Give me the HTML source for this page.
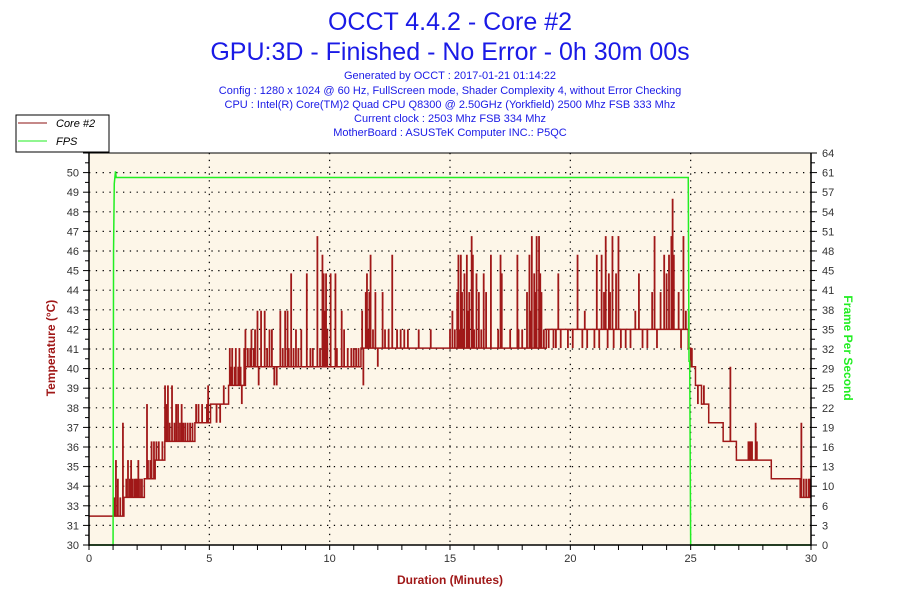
<!DOCTYPE html>
<html><head><meta charset="utf-8"><style>
body{margin:0;background:#fff;width:900px;height:600px;overflow:hidden;font-family:"Liberation Sans",sans-serif}
svg{display:block}
</style></head><body>
<svg id="chart" width="900" height="600" xmlns="http://www.w3.org/2000/svg">
<text x="450" y="30" text-anchor="middle" font-size="25" fill="#1a1ae6">OCCT 4.4.2 - Core #2</text>
<text x="450" y="60" text-anchor="middle" font-size="25" fill="#1a1ae6">GPU:3D - Finished - No Error - 0h 30m 00s</text>
<g font-size="11" fill="#1a1ae6" text-anchor="middle">
<text x="450" y="79">Generated by OCCT : 2017-01-21 01:14:22</text>
<text x="450" y="94">Config : 1280 x 1024 @ 60 Hz, FullScreen mode, Shader Complexity 4, without Error Checking</text>
<text x="450" y="108">CPU : Intel(R) Core(TM)2 Quad CPU Q8300 @ 2.50GHz (Yorkfield) 2500 Mhz FSB 333 Mhz</text>
<text x="450" y="122">Current clock : 2503 Mhz FSB 334 Mhz</text>
<text x="450" y="136">MotherBoard : ASUSTeK Computer INC.: P5QC</text>
</g>
<rect x="89" y="153" width="722" height="392" fill="#fdf6e8"/>
<g id="grid"></g><g id="series"></g><g id="axes"></g>
<g>
<rect x="16" y="115" width="93" height="37" fill="#fff" stroke="#000" stroke-width="1"/>
<line x1="18" y1="123" x2="47" y2="123" stroke="#8b1010"/>
<text x="56" y="127" font-size="11" font-style="italic" fill="#000">Core #2</text>
<line x1="18" y1="141" x2="47" y2="141" stroke="#22ee22"/>
<text x="56" y="145" font-size="11" font-style="italic" fill="#000">FPS</text>
</g>
<text transform="translate(55,348) rotate(-90)" text-anchor="middle" font-size="12" font-weight="bold" fill="#a01818">Temperature (°C)</text>
<text transform="translate(844,348) rotate(90)" text-anchor="middle" font-size="12" font-weight="bold" fill="#22ee22">Frame Per Second</text>
<text x="450" y="584" text-anchor="middle" font-size="12" font-weight="bold" fill="#a01818">Duration (Minutes)</text>
</svg>
<script>
const xTicks=[0,5,10,15,20,25,30];
const leftLabels=["30","31","33","34","35","36","37","38","39","40","41","42","43","44","45","46","47","48","49","50"];
const rightLabels=["0","3","6","10","13","16","19","22","25","29","32","35","38","41","45","48","51","54","57","61","64"];
const baseTimes=[0,1.45,2.3,2.75,3.0,3.15,4.4,5.05,5.8,6.5,11.3,19.0,24.9,25.0,25.2,25.45,25.75,26.35,26.9,28.35,29.55,30];
const baseTemps=[32,33,34,35,35,36,37,38,39,40,41,42,41,40,39,38,37,36,35,34,33,33];
const spikeTimes=[1.05,1.12,1.2,1.3,1.41,1.5,1.55,1.62,1.7,1.75,1.82,1.9,1.95,2.0,2.05,2.12,2.2,2.41,2.45,2.55,2.6,2.7,2.8,2.9,3.05,3.16,3.22,3.28,3.35,3.45,3.55,3.62,3.7,3.78,3.85,3.92,4.0,4.1,4.2,4.3,4.45,4.55,4.7,4.9,4.95,5.3,5.45,5.6,5.85,5.9,5.95,6.05,6.1,6.2,6.25,6.3,6.35,6.45,6.5,6.6,6.7,6.75,6.85,6.9,7.0,7.05,7.15,7.3,7.4,7.5,7.6,7.7,7.8,7.95,8.05,8.15,8.25,8.3,8.4,8.5,8.6,8.7,8.82,9.05,9.2,9.3,9.49,9.6,9.7,9.75,9.8,9.85,9.9,10.04,10.24,10.3,10.5,10.6,10.75,10.9,11.0,11.1,11.2,11.35,11.4,11.5,11.55,11.6,11.65,11.7,11.8,11.9,12.0,12.2,12.3,12.45,12.6,12.8,12.95,13.1,13.25,13.7,14.2,15.0,15.1,15.2,15.3,15.35,15.4,15.45,15.5,15.55,15.6,15.7,15.75,15.8,15.9,15.95,16.0,16.1,16.2,16.3,16.4,16.5,16.7,17.0,17.1,17.15,17.5,17.8,17.85,18.0,18.2,18.3,18.35,18.4,18.5,18.55,18.6,18.7,18.75,18.8,18.9,19.1,19.3,19.4,19.5,19.6,19.9,20.1,20.3,20.5,20.6,20.7,21.0,21.1,21.2,21.3,21.4,21.47,21.55,21.6,21.65,21.75,21.8,21.9,22.0,22.1,22.3,22.5,22.7,22.85,23.0,23.2,23.4,23.5,23.6,23.75,23.9,24.0,24.1,24.2,24.25,24.3,24.5,24.6,24.7,24.8,24.92,25.05,25.3,25.55,25.6,26.1,26.2,26.65,26.7,27.4,27.45,27.5,27.55,27.7,27.75,29.6,29.7,29.8,29.9,29.95];
const spikeTemps=[33,35,34,33,37,33,34,35,34,35,34,34,34,34,35,34,34,38,35,35,36,36,36,36,36,39,38,39,37,39,37,38,38,37,38,37,37,37,37,37,38,38,38,38,39,37,37,39,41,40,41,40,41,40,41,40,38,41,42,41,41,42,41,42,43,39,43,43,41,42,42,39,39,43,41,43,43,41,45,41,42,41,42,45,41,41,47,41,46,45,43,45,42,45,45,41,43,42,41,41,41,41,41,43,39,44,45,42,44,46,42,44,40,44,42,42,46,42,42,42,42,42,42,42,43,42,44,46,42,46,44,42,45,46,43,44,47,46,42,45,44,42,45,44,46,42,46,45,42,46,42,42,44,46,43,47,45,44,47,47,45,44,42,41,41,41,45,41,41,41,46,41,43,41,41,46,41,46,44,47,41,45,44,47,41,45,47,41,41,41,43,45,41,41,44,47,41,44,46,45,46,47,49,46,44,41,47,43,43,41,38,39,38,37,37,40,36,36,36,36,36,37,36,37,34,34,34,34,34];
const fpsTimes=[0,1.0,1.02,1.05,1.1,1.13,24.9,24.93,24.96,25.0,30];
const fpsValues=[0,0,48,59,61,60,60,30,30,0,0];

const X0=89,X1=811,Y0=545,Y1=153,NS="http://www.w3.org/2000/svg";
const xs=t=>X0+(X1-X0)*t/30;
const yT=T=>Y0-((T-0.45)-30)*(Y0-Y1)/21;
const yF=f=>Y0-f*(Y0-Y1)/64;
function mk(tag,attrs,parent){const e=document.createElementNS(NS,tag);for(const k in attrs)e.setAttribute(k,attrs[k]);parent.appendChild(e);return e;}
function baseAt(t){let v=baseTemps[0];for(let i=0;i<baseTimes.length;i++){if(baseTimes[i]<=t)v=baseTemps[i];}return v;}
const grid=document.getElementById('grid'),series=document.getElementById('series'),axes=document.getElementById('axes');
const step=(Y0-Y1)/20;
for(let i=1;i<20;i++){const y=Y0-i*step;const l=mk('line',{x1:X0,x2:X1,y1:y,y2:y,stroke:'#000','stroke-width':1.2,'stroke-dasharray':'1.3 5.5'},grid);

}
xTicks.slice(1,-1).forEach(t=>{const l=mk('line',{x1:xs(t),x2:xs(t),y1:Y1,y2:Y0,stroke:'#000','stroke-width':1.2,'stroke-dasharray':'1.3 5.5'},grid);

});
// temperature base step path
let d='M'+xs(baseTimes[0])+','+yT(baseTemps[0]);
for(let i=1;i<baseTimes.length;i++){d+=' H'+xs(baseTimes[i])+' V'+yT(baseTemps[i]);}
const bp=mk('path',{d:d,fill:'none',stroke:'#a01818','stroke-width':1.5},series);


spikeTimes.forEach((t,i)=>{const x=xs(t);const s=mk('line',{x1:x,x2:x,y1:yT(baseAt(t)),y2:yT(spikeTemps[i]),stroke:'#a01818','stroke-width':1.8},series);

});
const fp=mk('polyline',{points:fpsTimes.map((t,i)=>xs(t)+','+yF(fpsValues[i])).join(' '),fill:'none',stroke:'#22ee22','stroke-width':1.5},series);


// axes
mk('line',{x1:X0,x2:X0,y1:Y1,y2:Y0+1,stroke:'#000','stroke-width':1.5},axes);
mk('line',{x1:X1,x2:X1,y1:Y1,y2:Y0+1,stroke:'#000','stroke-width':1.5},axes);
mk('line',{x1:X0,x2:X1,y1:Y0,y2:Y0,stroke:'#000','stroke-width':1.5},axes);
mk('line',{x1:X0,x2:X1,y1:Y1,y2:Y1,stroke:'#000','stroke-width':1},axes);
for(let i=0;i<=40;i++){const y=Y0-i*step/2;const L=i%2==0?6:4;
mk('line',{x1:X0-L,x2:X0,y1:y,y2:y,stroke:'#000','stroke-width':1},axes);
mk('line',{x1:X1,x2:X1+L,y1:y,y2:y,stroke:'#000','stroke-width':1},axes);}
leftLabels.forEach((s,i)=>{const t=mk('text',{x:X0-10,y:Y0-i*step+4,'text-anchor':'end','font-size':11,fill:'#333'},axes);t.textContent=s;

});
rightLabels.forEach((s,i)=>{const t=mk('text',{x:X1+11,y:Y0-i*step+4,'font-size':11,fill:'#333'},axes);t.textContent=s;

});
for(let m=0;m<=30;m++){mk('line',{x1:xs(m),x2:xs(m),y1:Y0,y2:Y0+5,stroke:'#000','stroke-width':1},axes);}
xTicks.forEach(v=>{const t=mk('text',{x:xs(v),y:Y0+17,'text-anchor':'middle','font-size':11,fill:'#333'},axes);t.textContent=v;

});
</script>
</body></html>
